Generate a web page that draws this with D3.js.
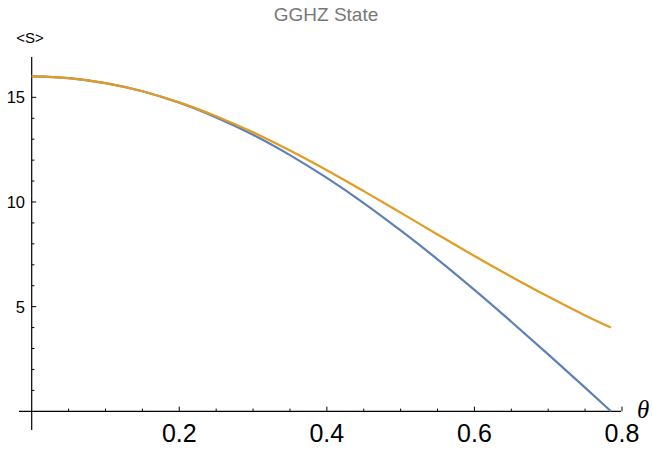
<!DOCTYPE html>
<html>
<head>
<meta charset="utf-8">
<script src="https://cdn.jsdelivr.net/npm/d3@7"></script>
<style>
	body { margin: 0; background: #fff; }
	svg { display: block; font-family: "Liberation Sans", Arial, sans-serif; }
</style>
</head>
<body>
<div id="chart"></div>
<script>
// GGHZ State plot
///

const thetas = [0, 0.05, 0.10, 0.15, 0.20, 0.25, 0.30, 0.35, 0.40, 0.45, 0.50, 0.55, 0.60, 0.65, 0.70, 0.75, 0.785];
const blueVals = [16, 15.92, 15.68, 15.29, 14.74, 14.04, 13.21, 12.24, 11.15, 9.95, 8.64, 7.26, 5.80, 4.28, 2.72, 1.13, 0];
const orangeVals = [16, 15.92, 15.68, 15.29, 14.76, 14.10, 13.33, 12.46, 11.52, 10.52, 9.49, 8.45, 7.42, 6.43, 5.48, 4.58, 4.0];
const xTicks = [0.2, 0.4, 0.6, 0.8];
const yTicks = [5, 10, 15];

const w = 652, h = 454;

let svg = d3.select("#chart").append('svg')
	.attr("width", w)
	.attr("height", h);

const x = d3.scaleLinear().domain([0, 0.8]).range([31.7, 622]);
const y = d3.scaleLinear().domain([0, 16]).range([411.3, 76.4]);

// title and axis labels
svg.append('text').attr('x', 326).attr('y', 21).attr('text-anchor', 'middle')
	.attr('fill', '#777').style('font-size', '19px').text('GGHZ State');
svg.append('text').attr('x', 30).attr('y', 43).attr('text-anchor', 'middle')
	.style('font-size', '15px').text('<S>');
svg.append('text').attr('x', 637).attr('y', 418)
	.style('font-size', '25px').style('font-style', 'italic')
	.style('font-family', '"Liberation Serif", "Times New Roman", serif').text('θ');

// axes
let axes = svg.append('g').attr('stroke', '#000').attr('stroke-width', 1.2);
axes.append('line').attr('x1', 19).attr('x2', 621).attr('y1', y(0)).attr('y2', y(0));
axes.append('line').attr('x1', x(0)).attr('x2', x(0)).attr('y1', 57).attr('y2', 430);

// x ticks (major + minor every 0.05)
d3.range(1, 17).map(i => i * 0.05).forEach(function(t) {
	let major = xTicks.some(v => Math.abs(v - t) < 1e-9);
	axes.append('line').attr('x1', x(t)).attr('x2', x(t))
		.attr('y1', y(0)).attr('y2', y(0) - (major ? 4.7 : 2.7))
		.attr('stroke-width', 1);
});
// y ticks (major + minor every 1)
d3.range(1, 17).forEach(function(v) {
	let major = yTicks.indexOf(v) >= 0;
	axes.append('line').attr('x1', x(0)).attr('x2', x(0) + (major ? 4.5 : 2.7))
		.attr('y1', y(v)).attr('y2', y(v))
		.attr('stroke-width', 1);
});

svg.append('g').selectAll('text').data(xTicks).enter().append('text')
	.attr('x', d => x(d)).attr('y', 442).attr('text-anchor', 'middle')
	.style('font-size', '25px').text(d => d.toFixed(1));
svg.append('g').selectAll('text').data(yTicks).enter().append('text')
	.attr('x', 25).attr('y', d => y(d)).attr('dy', '0.36em').attr('text-anchor', 'end')
	.style('font-size', '16.5px').text(d => d);

// curves
const line = d3.line().x(d => x(d[0])).y(d => y(d[1])).curve(d3.curveMonotoneX);

svg.append('path').datum(thetas.map((t, i) => [t, blueVals[i]]))
	.attr('d', line).attr('fill', 'none').attr('stroke', '#5e81b5').attr('stroke-width', 2.2);
svg.append('path').datum(thetas.map((t, i) => [t, orangeVals[i]]))
	.attr('d', line).attr('fill', 'none').attr('stroke', '#e19c24').attr('stroke-width', 2.2);
</script>
</body>
</html>
